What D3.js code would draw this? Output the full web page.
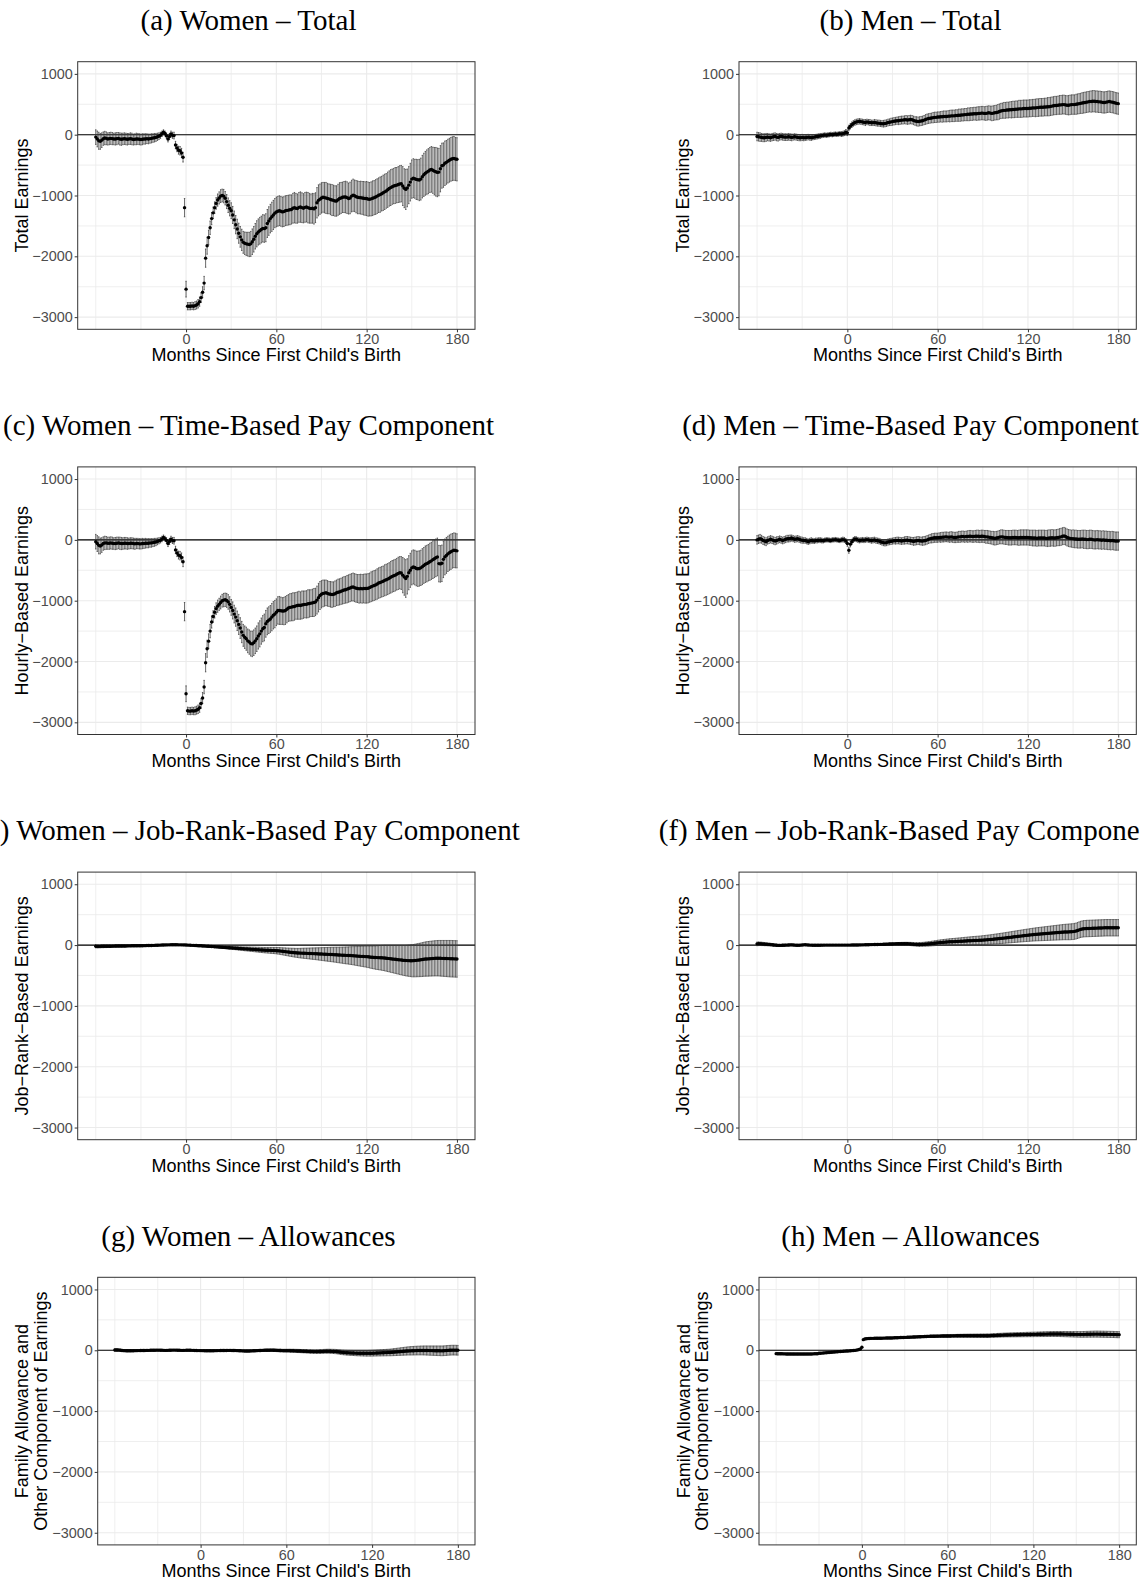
<!DOCTYPE html>
<html>
<head>
<meta charset="utf-8">
<script src="https://d3js.org/d3.v7.min.js"></script>
<style>
  body { margin: 0; background: #fff; }
  svg { display: block; }
</style>
</head>
<body>
<script>
// months -60..180, one estimate + CI half-width per month
const months = d3.range(-60, 181);

// (a) women, total earnings
const womenTotal = [
  -40, -70, -100, -110, -90, -65, -55, -60, -70, -65,
  -60, -65, -70, -70, -65, -60, -70, -75, -70, -65,
  -70, -75, -70, -65, -70, -80, -75, -70, -70, -75,
  -80, -75, -70, -70, -65, -70, -65, -60, -55, -50,
  -45, -35, -25, -10, 15, 40, 20, -20, -70, -30,
  10, -10, -15, -170, -220, -255, -265, -300, -370, -1200,
  -2540, -2820, -2820, -2820, -2815, -2820, -2810, -2800, -2780, -2745,
  -2680, -2590, -2440, -2030, -1825, -1690, -1530, -1380, -1285, -1200,
  -1130, -1075, -1040, -1010, -1000, -1010, -1045, -1100, -1160, -1210,
  -1250, -1320, -1400, -1480, -1550, -1620, -1680, -1730, -1770, -1785,
  -1795, -1800, -1805, -1795, -1760, -1720, -1670, -1630, -1600, -1580,
  -1560, -1540, -1545, -1530, -1460, -1420, -1380, -1350, -1320, -1290,
  -1270, -1260, -1250, -1260, -1270, -1265, -1250, -1245, -1240, -1235,
  -1230, -1210, -1200, -1210, -1215, -1195, -1190, -1200, -1210, -1195,
  -1190, -1200, -1210, -1215, -1210, -1220, -1200, -1120, -1080, -1060,
  -1040, -1030, -1035, -1040, -1050, -1055, -1065, -1075, -1080, -1090,
  -1090, -1070, -1050, -1040, -1030, -1025, -1025, -1035, -1050, -1040,
  -1010, -995, -1005, -1020, -1030, -1035, -1035, -1040, -1045, -1050,
  -1050, -1060, -1062, -1055, -1045, -1035, -1025, -1010, -995, -985,
  -970, -955, -940, -925, -905, -885, -870, -855, -845, -835,
  -830, -820, -810, -805, -845, -880, -900, -875, -830, -780,
  -730, -715, -725, -735, -740, -745, -730, -690, -660, -635,
  -615, -600, -580, -570, -585, -600, -610, -620, -615, -560,
  -510, -500, -470, -455, -435, -420, -405, -395, -390, -400,
  -405
];
const womenTotalCI = [
  120, 130, 140, 130, 120, 110, 110, 105, 100, 100,
  100, 100, 95, 100, 100, 95, 100, 100, 95, 95,
  95, 95, 90, 95, 95, 90, 90, 95, 90, 90,
  90, 90, 85, 85, 80, 80, 75, 75, 70, 70,
  65, 60, 55, 50, 45, 40, 40, 45, 50, 50,
  50, 50, 55, 60, 60, 65, 70, 75, 80, 150,
  130, 60, 60, 60, 60, 60, 65, 65, 70, 75,
  80, 90, 110, 150, 140, 120, 110, 100, 95, 95,
  95, 100, 100, 105, 105, 110, 110, 115, 120, 125,
  130, 140, 145, 150, 160, 165, 170, 175, 180, 185,
  190, 195, 200, 205, 210, 210, 210, 215, 215, 220,
  220, 225, 225, 230, 230, 235, 235, 240, 240, 240,
  245, 245, 245, 245, 245, 245, 245, 245, 245, 245,
  240, 245, 250, 245, 240, 245, 250, 245, 240, 245,
  245, 250, 245, 240, 245, 250, 245, 250, 255, 250,
  250, 245, 250, 255, 250, 245, 250, 255, 250, 250,
  250, 255, 260, 255, 250, 255, 260, 260, 255, 260,
  260, 265, 260, 265, 270, 265, 270, 270, 275, 275,
  280, 280, 275, 280, 285, 280, 285, 285, 285, 290,
  285, 290, 290, 285, 290, 290, 295, 290, 290, 295,
  290, 295, 300, 300, 320, 320, 330, 310, 305, 310,
  315, 320, 320, 330, 330, 340, 345, 350, 355, 360,
  365, 370, 370, 375, 380, 390, 400, 400, 390, 380,
  370, 365, 365, 360, 360, 360, 360, 360, 360, 355,
  355
];

// (b) men, total earnings
const menTotal = [
  -30, -35, -40, -45, -50, -50, -45, -40, -45, -50,
  -40, -35, -30, -40, -45, -35, -30, -35, -40, -40,
  -40, -35, -40, -45, -40, -35, -40, -45, -50, -50,
  -45, -50, -50, -45, -40, -45, -50, -45, -40, -35,
  -30, -25, -20, -15, -10, -5, -10, -5, 0, 5,
  0, 5, 10, 5, 10, 15, 10, 15, 25, 40,
  30, 110, 140, 165, 185, 200, 210, 215, 220, 215,
  210, 205, 200, 210, 205, 200, 195, 195, 200, 195,
  190, 190, 185, 180, 180, 185, 190, 200, 205, 210,
  215, 220, 225, 230, 230, 235, 240, 240, 245, 245,
  240, 245, 250, 245, 235, 225, 220, 215, 220, 225,
  230, 240, 250, 260, 265, 270, 275, 280, 285, 285,
  290, 290, 295, 295, 300, 300, 300, 305, 305, 310,
  310, 310, 315, 315, 320, 320, 325, 325, 330, 330,
  335, 335, 340, 340, 345, 345, 345, 350, 350, 355,
  355, 350, 350, 355, 360, 355, 350, 355, 360, 365,
  370, 380, 390, 395, 400, 400, 405, 405, 410, 410,
  415, 415, 420, 420, 425, 425, 425, 430, 430, 430,
  430, 435, 435, 440, 440, 440, 445, 445, 450, 450,
  450, 455, 455, 460, 460, 465, 470, 475, 480, 480,
  485, 490, 490, 495, 495, 490, 485, 485, 490, 495,
  495, 495, 500, 505, 510, 515, 520, 525, 530, 535,
  540, 545, 545, 550, 550, 545, 545, 540, 540, 535,
  530, 530, 535, 540, 545, 540, 535, 530, 520, 515,
  510
];
const menTotalCI = [
  70, 70, 70, 65, 65, 65, 65, 60, 60, 60,
  60, 60, 60, 60, 60, 55, 55, 55, 55, 55,
  55, 55, 55, 55, 50, 50, 50, 50, 50, 50,
  50, 50, 45, 45, 45, 45, 45, 40, 40, 40,
  40, 40, 40, 35, 35, 35, 35, 35, 35, 35,
  35, 35, 35, 35, 35, 35, 40, 40, 40, 45,
  45, 45, 45, 45, 45, 45, 45, 45, 45, 45,
  45, 45, 50, 45, 45, 50, 45, 45, 50, 50,
  50, 50, 50, 50, 55, 55, 55, 55, 55, 60,
  60, 60, 60, 60, 65, 65, 65, 65, 65, 70,
  70, 70, 70, 70, 70, 70, 75, 75, 75, 75,
  75, 75, 80, 80, 80, 80, 80, 85, 85, 85,
  85, 85, 85, 90, 90, 90, 90, 90, 95, 95,
  95, 95, 95, 95, 100, 100, 100, 100, 100, 100,
  105, 105, 105, 105, 105, 105, 110, 110, 110, 110,
  110, 110, 115, 115, 115, 115, 120, 120, 120, 120,
  125, 125, 125, 125, 130, 130, 130, 130, 130, 135,
  135, 135, 135, 135, 140, 140, 140, 140, 140, 140,
  140, 140, 140, 140, 140, 145, 145, 145, 145, 145,
  145, 145, 145, 150, 150, 150, 150, 150, 150, 150,
  150, 155, 155, 155, 155, 155, 155, 160, 160, 160,
  160, 160, 165, 165, 165, 165, 170, 170, 170, 170,
  170, 170, 175, 175, 175, 175, 175, 175, 175, 175,
  175, 175, 175, 175, 175, 175, 175, 175, 175, 175,
  175
];

// (c) women, time-based (hourly) pay
const womenTime = [
  -30, -60, -90, -100, -85, -60, -50, -50, -55, -55,
  -50, -55, -60, -60, -55, -50, -55, -60, -60, -55,
  -55, -60, -60, -55, -55, -60, -65, -60, -60, -65,
  -65, -60, -60, -55, -55, -55, -50, -50, -45, -40,
  -35, -25, -15, -5, 15, 40, 20, -10, -60, -25,
  10, -10, -15, -165, -215, -250, -260, -290, -360, -1180,
  -2530, -2810, -2815, -2815, -2810, -2815, -2810, -2800, -2785, -2760,
  -2690, -2600, -2420, -2020, -1790, -1665, -1500, -1350, -1260, -1190,
  -1130, -1090, -1060, -1030, -1000, -990, -985, -995, -1020, -1060,
  -1110, -1160, -1220, -1270, -1330, -1390, -1450, -1515, -1570, -1600,
  -1625, -1660, -1680, -1705, -1710, -1690, -1660, -1625, -1580, -1545,
  -1500, -1460, -1440, -1380, -1340, -1320, -1300, -1270, -1240, -1220,
  -1190, -1160, -1160, -1165, -1170, -1170, -1160, -1140, -1120, -1110,
  -1105, -1100, -1095, -1085, -1080, -1075, -1080, -1070, -1065, -1060,
  -1060, -1050, -1045, -1040, -1035, -1030, -1020, -990, -950, -915,
  -895, -880, -875, -870, -880, -890, -895, -900, -895, -885,
  -870, -860, -855, -845, -835, -825, -820, -810, -800, -790,
  -780, -775, -785, -795, -800, -805, -800, -805, -800, -800,
  -800, -795, -785, -770, -760, -750, -740, -725, -710, -700,
  -690, -680, -665, -655, -645, -630, -615, -600, -590, -580,
  -565, -550, -540, -545, -580, -610, -635, -600, -540, -500,
  -460, -445, -455, -470, -475, -470, -460, -440, -420, -400,
  -390, -375, -360, -345, -325, -310, -295, -280, -390, -395,
  -385, -320, -280, -255, -230, -210, -195, -180, -170, -175,
  -180
];
const womenTimeCI = [
  120, 130, 140, 130, 120, 110, 110, 105, 100, 100,
  100, 100, 95, 100, 100, 95, 100, 100, 95, 95,
  95, 95, 90, 90, 90, 90, 90, 85, 85, 85,
  85, 85, 80, 80, 75, 75, 70, 70, 65, 65,
  60, 55, 50, 45, 45, 40, 40, 45, 50, 50,
  50, 50, 55, 60, 60, 65, 70, 75, 80, 150,
  130, 60, 60, 60, 60, 60, 65, 65, 70, 75,
  80, 90, 110, 150, 140, 120, 110, 100, 95, 95,
  95, 100, 100, 105, 105, 110, 110, 115, 120, 125,
  130, 140, 145, 150, 160, 165, 170, 175, 180, 185,
  190, 195, 200, 205, 210, 210, 210, 210, 215, 215,
  215, 215, 220, 220, 220, 220, 220, 225, 225, 225,
  220, 225, 230, 225, 220, 225, 230, 225, 220, 225,
  225, 230, 225, 220, 225, 230, 225, 230, 225, 220,
  225, 230, 225, 220, 225, 230, 225, 230, 235, 230,
  225, 220, 215, 210, 210, 205, 210, 210, 205, 210,
  210, 215, 215, 215, 220, 220, 220, 225, 225, 225,
  225, 230, 230, 230, 230, 235, 235, 235, 235, 240,
  240, 240, 240, 245, 245, 245, 245, 250, 250, 250,
  250, 250, 255, 255, 255, 255, 260, 260, 260, 260,
  260, 265, 265, 270, 290, 300, 310, 290, 280, 280,
  280, 280, 285, 285, 290, 290, 290, 295, 295, 300,
  300, 300, 305, 305, 310, 310, 310, 310, 300, 300,
  300, 300, 295, 295, 290, 290, 290, 285, 285, 285,
  280
];

// (d) men, time-based (hourly) pay
const menTime = [
  0, 10, 20, 10, -10, -20, -30, -10, 0, 10,
  0, -10, -20, -10, 0, 10, 0, -10, 0, 10,
  20, 20, 25, 30, 20, 10, 15, 20, 10, 0,
  -5, -10, -10, -20, -30, -20, -10, -15, -20, -10,
  -10, -5, -5, -10, -15, -5, 0, 0, -5, -10,
  0, 0, 5, 0, -5, -10, 0, 5, 0, -20,
  -60, -170, -70, -30, 0, 15, 10, 0, -10, -5,
  0, -5, 0, 5, 0, -5, -10, -5, 0, -10,
  -15, -20, -30, -40, -45, -50, -45, -35, -30, -25,
  -20, -15, -15, -10, -10, -15, -20, -15, -10, -5,
  -5, -10, -15, -20, -25, -20, -15, -10, -15, -20,
  -20, -15, -10, 0, 10, 20, 25, 30, 35, 35,
  35, 40, 40, 45, 45, 50, 50, 45, 45, 50,
  45, 40, 40, 45, 50, 50, 55, 55, 50, 55,
  55, 60, 60, 55, 55, 60, 60, 60, 55, 60,
  60, 55, 50, 50, 45, 40, 35, 30, 25, 30,
  35, 45, 50, 50, 45, 40, 40, 35, 35, 35,
  40, 40, 40, 35, 35, 40, 40, 40, 40, 40,
  40, 35, 35, 30, 30, 30, 25, 30, 30, 30,
  30, 30, 25, 25, 30, 30, 35, 30, 30, 35,
  40, 45, 50, 60, 65, 55, 40, 30, 25, 20,
  20, 15, 15, 10, 10, 10, 15, 10, 10, 5,
  5, 10, 10, 5, 0, 0, 5, 0, 0, -5,
  0, -5, -5, -10, -10, -15, -10, -15, -20, -20,
  -20
];
const menTimeCI = [
  70, 70, 70, 65, 65, 65, 65, 60, 60, 60,
  60, 60, 60, 60, 55, 55, 55, 55, 55, 55,
  55, 55, 55, 50, 50, 50, 50, 50, 50, 50,
  50, 45, 45, 45, 45, 45, 45, 40, 40, 40,
  40, 40, 40, 40, 35, 35, 35, 35, 35, 35,
  35, 35, 35, 35, 35, 35, 35, 40, 40, 40,
  45, 50, 45, 40, 40, 40, 40, 40, 40, 40,
  40, 40, 40, 40, 40, 40, 45, 45, 45, 45,
  45, 45, 45, 45, 50, 50, 50, 50, 50, 50,
  50, 50, 55, 55, 55, 55, 55, 55, 60, 60,
  60, 60, 60, 60, 65, 65, 65, 65, 65, 65,
  70, 70, 70, 70, 70, 70, 75, 75, 75, 75,
  75, 75, 80, 80, 80, 80, 80, 80, 85, 85,
  85, 85, 85, 85, 90, 90, 90, 90, 90, 90,
  95, 95, 95, 95, 95, 95, 100, 100, 100, 100,
  100, 100, 105, 105, 105, 105, 105, 110, 110, 110,
  110, 110, 115, 115, 115, 115, 115, 120, 120, 120,
  120, 120, 120, 120, 125, 125, 125, 125, 125, 125,
  125, 125, 125, 130, 130, 130, 130, 130, 130, 130,
  130, 130, 130, 135, 135, 135, 135, 135, 135, 135,
  135, 140, 140, 140, 140, 140, 140, 140, 140, 140,
  145, 145, 145, 145, 145, 145, 145, 150, 150, 150,
  150, 150, 150, 150, 150, 150, 150, 150, 150, 150,
  150, 150, 150, 150, 150, 150, 150, 150, 150, 150,
  150
];

// (e) women, job-rank-based pay
const womenRank = [
  -20, -22, -22, -21, -20, -20, -19, -19, -18, -18,
  -18, -17, -17, -16, -16, -15, -15, -15, -14, -14,
  -14, -13, -13, -13, -12, -12, -12, -11, -11, -11,
  -10, -10, -9, -9, -8, -8, -7, -6, -5, -4,
  -3, -2, -1, 0, 1, 2, 3, 3, 4, 4,
  5, 5, 5, 5, 5, 4, 4, 4, 3, 3,
  2, 0, -1, -3, -4, -5, -7, -8, -10, -11,
  -12, -14, -15, -17, -19, -20, -22, -23, -25, -27,
  -29, -30, -32, -34, -36, -38, -39, -41, -43, -45,
  -46, -48, -50, -51, -53, -55, -57, -58, -60, -62,
  -63, -65, -66, -68, -70, -71, -73, -75, -76, -78,
  -80, -81, -83, -84, -85, -86, -87, -88, -89, -90,
  -92, -94, -96, -99, -102, -105, -108, -111, -114, -117,
  -120, -122, -125, -127, -129, -131, -132, -133, -134, -135,
  -136, -137, -138, -139, -140, -141, -142, -143, -145, -146,
  -147, -148, -150, -151, -152, -153, -154, -155, -157, -158,
  -160, -162, -163, -165, -166, -168, -169, -170, -171, -172,
  -173, -175, -177, -179, -181, -183, -185, -186, -188, -189,
  -190, -193, -196, -199, -201, -203, -205, -206, -207, -208,
  -209, -211, -213, -216, -219, -222, -225, -228, -231, -234,
  -237, -240, -243, -246, -249, -252, -254, -255, -256, -257,
  -257, -256, -254, -251, -248, -245, -242, -238, -234, -230,
  -228, -226, -224, -222, -220, -218, -217, -216, -216, -217,
  -218, -219, -220, -221, -222, -223, -224, -225, -226, -227,
  -228
];
const womenRankCI = [
  25, 25, 24, 24, 23, 23, 22, 22, 21, 21,
  20, 20, 20, 19, 19, 18, 18, 18, 17, 17,
  16, 16, 16, 15, 15, 14, 14, 14, 13, 13,
  12, 12, 12, 11, 11, 10, 10, 10, 9, 9,
  8, 8, 8, 7, 7, 6, 6, 6, 5, 5,
  5, 4, 4, 4, 3, 3, 3, 2, 2, 2,
  3, 3, 4, 4, 5, 5, 6, 6, 7, 7,
  8, 8, 9, 10, 10, 11, 12, 12, 13, 14,
  14, 15, 16, 17, 17, 18, 19, 20, 21, 22,
  22, 23, 24, 25, 26, 27, 28, 29, 30, 31,
  32, 33, 34, 35, 36, 37, 38, 39, 40, 41,
  42, 43, 44, 45, 46, 47, 48, 49, 50, 51,
  52, 54, 55, 57, 58, 60, 62, 63, 65, 67,
  68, 70, 72, 73, 75, 77, 79, 81, 83, 85,
  86, 88, 90, 92, 94, 95, 97, 99, 101, 103,
  105, 107, 109, 111, 113, 115, 117, 119, 121, 123,
  125, 127, 129, 131, 133, 136, 138, 140, 142, 145,
  147, 150, 152, 155, 157, 160, 162, 165, 168, 171,
  174, 177, 180, 183, 186, 189, 192, 195, 198, 201,
  204, 207, 210, 213, 216, 219, 222, 225, 228, 231,
  234, 237, 240, 243, 246, 249, 252, 255, 258, 261,
  264, 266, 268, 270, 272, 274, 276, 278, 280, 282,
  284, 285, 286, 287, 288, 289, 290, 291, 292, 293,
  294, 295, 296, 297, 298, 299, 300, 300, 300, 300,
  300
];

// (f) men, job-rank-based pay
const menRank = [
  20, 22, 22, 20, 18, 16, 14, 12, 10, 8,
  5, 2, 0, -3, -5, -5, -4, -3, -2, 0,
  0, 2, 3, 4, 2, 0, -2, -3, -2, 0,
  2, 4, 5, 3, 1, 0, -1, -2, -3, -3,
  -3, -2, -2, -1, -1, 0, 0, 0, 0, 0,
  0, 0, 0, 0, 0, 0, 0, 0, 0, 0,
  0, 0, 0, 1, 1, 1, 2, 2, 3, 3,
  4, 4, 5, 6, 6, 7, 8, 8, 9, 10,
  10, 11, 12, 12, 13, 14, 15, 16, 17, 18,
  19, 20, 20, 21, 21, 22, 22, 23, 22, 22,
  21, 20, 18, 16, 14, 12, 11, 10, 10, 11,
  12, 14, 16, 18, 20, 22, 25, 28, 31, 34,
  37, 40, 42, 44, 46, 48, 50, 52, 54, 55,
  56, 57, 58, 60, 61, 62, 64, 65, 67, 68,
  70, 71, 72, 74, 75, 76, 77, 78, 79, 80,
  82, 84, 86, 88, 90, 92, 94, 97, 100, 102,
  104, 107, 110, 112, 115, 118, 121, 124, 127, 130,
  133, 136, 139, 142, 145, 148, 151, 154, 157, 160,
  162, 165, 168, 171, 173, 176, 178, 180, 182, 184,
  186, 188, 190, 192, 194, 196, 198, 200, 202, 204,
  206, 208, 210, 212, 214, 215, 216, 217, 218, 220,
  222, 226, 232, 240, 250, 258, 264, 268, 270, 272,
  273, 274, 275, 276, 277, 278, 279, 280, 281, 282,
  283, 284, 285, 285, 285, 285, 285, 285, 285, 285,
  285
];
const menRankCI = [
  30, 30, 28, 28, 26, 26, 24, 24, 22, 22,
  20, 20, 19, 19, 18, 18, 17, 17, 16, 16,
  15, 15, 14, 14, 13, 13, 12, 12, 11, 11,
  10, 10, 9, 9, 8, 8, 7, 7, 6, 6,
  6, 5, 5, 5, 4, 4, 4, 3, 3, 3,
  3, 3, 2, 2, 2, 2, 2, 2, 2, 2,
  2, 3, 3, 4, 4, 5, 5, 6, 6, 7,
  7, 8, 8, 9, 9, 10, 10, 11, 11, 12,
  12, 13, 13, 14, 14, 15, 15, 16, 17, 17,
  18, 18, 19, 20, 20, 21, 22, 22, 23, 24,
  24, 25, 26, 27, 27, 28, 29, 30, 31, 32,
  32, 33, 34, 35, 36, 37, 38, 39, 40, 41,
  42, 43, 44, 45, 46, 47, 48, 49, 50, 51,
  52, 53, 54, 55, 56, 57, 58, 59, 60, 61,
  62, 63, 64, 65, 66, 67, 68, 69, 70, 71,
  72, 73, 74, 75, 76, 77, 78, 79, 80, 81,
  82, 83, 84, 85, 86, 87, 88, 89, 90, 91,
  92, 93, 94, 95, 96, 97, 98, 99, 100, 101,
  102, 103, 104, 105, 106, 107, 108, 109, 110, 111,
  112, 113, 114, 115, 116, 117, 118, 119, 120, 121,
  122, 123, 124, 125, 126, 127, 128, 129, 130, 130,
  130, 131, 131, 132, 132, 133, 133, 134, 134, 135,
  135, 135, 135, 135, 135, 135, 135, 135, 135, 135,
  135, 135, 135, 135, 135, 135, 135, 135, 135, 135,
  135
];

// (g) women, family allowance and other components
const womenAllow = [
  5, 5, 4, 3, 0, -3, -5, -6, -7, -8,
  -8, -8, -7, -7, -6, -6, -5, -5, -4, -4,
  -3, -3, -2, -2, -1, 0, 0, 1, 1, 2,
  2, 2, 1, 0, -1, -2, -2, -1, 0, 1,
  2, 3, 3, 2, 1, 0, -1, -2, -2, -1,
  0, 1, 1, 0, -1, -2, -3, -4, -5, -5,
  -5, -6, -6, -7, -7, -8, -8, -8, -7, -7,
  -6, -6, -5, -5, -4, -4, -3, -3, -3, -2,
  -2, -2, -3, -3, -4, -5, -6, -7, -8, -9,
  -10, -11, -12, -12, -11, -10, -9, -8, -7, -6,
  -5, -4, -3, -2, -1, 0, 0, 1, 1, 2,
  2, 1, 0, -1, -2, -3, -4, -5, -6, -6,
  -6, -6, -6, -7, -7, -8, -9, -10, -11, -12,
  -13, -14, -15, -16, -17, -18, -19, -20, -21, -22,
  -22, -22, -22, -21, -20, -19, -18, -17, -16, -16,
  -16, -17, -18, -19, -20, -22, -25, -28, -31, -34,
  -36, -38, -40, -41, -42, -43, -44, -45, -46, -47,
  -48, -48, -49, -49, -50, -50, -50, -50, -49, -49,
  -48, -47, -46, -45, -44, -43, -42, -41, -40, -39,
  -38, -37, -36, -35, -33, -31, -29, -27, -25, -23,
  -21, -19, -17, -15, -13, -11, -10, -9, -8, -7,
  -6, -5, -4, -4, -3, -3, -3, -3, -4, -4,
  -5, -5, -6, -6, -7, -7, -8, -8, -9, -9,
  -8, -6, -4, -2, 0, 1, 2, 2, 2, 1,
  0
];
const womenAllowCI = [
  20, 20, 19, 19, 18, 18, 17, 17, 16, 16,
  15, 15, 14, 14, 13, 13, 12, 12, 11, 11,
  10, 10, 10, 9, 9, 9, 8, 8, 8, 7,
  7, 7, 6, 6, 6, 5, 5, 5, 4, 4,
  4, 4, 3, 3, 3, 3, 3, 3, 3, 3,
  3, 3, 3, 3, 3, 3, 3, 3, 3, 3,
  3, 3, 4, 4, 4, 5, 5, 5, 6, 6,
  6, 7, 7, 7, 8, 8, 8, 9, 9, 9,
  10, 10, 10, 11, 11, 11, 12, 12, 12, 13,
  13, 13, 14, 14, 14, 15, 15, 15, 16, 16,
  16, 17, 17, 17, 18, 18, 18, 19, 19, 19,
  20, 20, 20, 21, 21, 21, 22, 22, 22, 23,
  23, 23, 24, 24, 24, 25, 25, 25, 26, 26,
  26, 27, 27, 27, 28, 28, 28, 29, 29, 29,
  30, 30, 30, 31, 31, 31, 32, 32, 32, 33,
  33, 33, 34, 34, 35, 35, 36, 36, 37, 37,
  38, 38, 39, 39, 40, 40, 41, 41, 42, 42,
  43, 43, 44, 44, 45, 45, 46, 46, 47, 47,
  48, 48, 49, 49, 50, 50, 51, 51, 52, 52,
  53, 53, 54, 55, 56, 57, 58, 59, 60, 61,
  62, 63, 64, 65, 66, 67, 68, 69, 70, 70,
  71, 71, 72, 72, 73, 73, 74, 74, 75, 75,
  76, 76, 77, 77, 78, 78, 79, 79, 80, 80,
  80, 80, 80, 80, 80, 80, 80, 80, 80, 80,
  80
];

// (h) men, family allowance and other components
const menAllow = [
  -55, -56, -57, -58, -58, -59, -59, -60, -60, -60,
  -60, -61, -61, -61, -62, -62, -62, -62, -62, -62,
  -62, -62, -61, -61, -60, -60, -59, -58, -57, -56,
  -50, -48, -46, -44, -42, -40, -38, -36, -34, -32,
  -30, -28, -26, -24, -22, -20, -18, -16, -14, -12,
  -11, -10, -8, -6, -4, -2, 2, 6, 12, 22,
  50, 175, 185, 190, 192, 194, 195, 196, 196, 197,
  197, 198, 198, 199, 199, 200, 200, 201, 201, 202,
  202, 203, 204, 205, 206, 207, 208, 209, 210, 211,
  212, 213, 214, 215, 216, 217, 218, 219, 220, 221,
  222, 223, 224, 225, 226, 227, 228, 229, 230, 230,
  231, 231, 232, 232, 233, 233, 234, 234, 235, 235,
  236, 236, 236, 237, 237, 237, 238, 238, 238, 239,
  239, 239, 240, 240, 240, 240, 240, 240, 240, 240,
  240, 240, 240, 240, 240, 240, 240, 240, 240, 240,
  241, 242, 243, 244, 245, 246, 247, 248, 249, 250,
  251, 252, 252, 253, 253, 254, 254, 255, 255, 256,
  256, 257, 257, 258, 258, 259, 259, 260, 260, 261,
  261, 262, 262, 263, 263, 264, 264, 265, 265, 266,
  266, 267, 267, 268, 268, 268, 268, 268, 268, 267,
  267, 266, 266, 265, 265, 264, 264, 263, 263, 262,
  262, 262, 261, 261, 261, 262, 262, 263, 263, 264,
  264, 265, 265, 266, 266, 266, 265, 265, 264, 264,
  263, 263, 262, 262, 261, 261, 260, 259, 258, 257,
  257
];
const menAllowCI = [
  15, 15, 15, 14, 14, 14, 13, 13, 13, 12,
  12, 12, 12, 11, 11, 11, 11, 10, 10, 10,
  10, 10, 9, 9, 9, 9, 8, 8, 8, 8,
  8, 7, 7, 7, 7, 6, 6, 6, 6, 6,
  5, 5, 5, 5, 5, 5, 5, 5, 5, 5,
  5, 5, 5, 5, 5, 5, 6, 6, 7, 8,
  10, 10, 8, 8, 8, 8, 8, 9, 9, 9,
  9, 10, 10, 10, 10, 11, 11, 11, 11, 12,
  12, 12, 12, 13, 13, 13, 13, 14, 14, 14,
  14, 15, 15, 15, 15, 16, 16, 16, 16, 17,
  17, 17, 17, 18, 18, 18, 18, 19, 19, 19,
  19, 20, 20, 20, 20, 21, 21, 21, 21, 22,
  22, 22, 22, 23, 23, 23, 23, 24, 24, 24,
  24, 25, 25, 25, 25, 26, 26, 26, 26, 27,
  27, 27, 27, 28, 28, 28, 28, 29, 29, 29,
  29, 30, 30, 30, 30, 31, 31, 31, 31, 32,
  32, 32, 32, 33, 33, 33, 33, 34, 34, 34,
  34, 35, 35, 35, 35, 36, 36, 36, 36, 37,
  37, 37, 37, 38, 38, 38, 38, 39, 39, 39,
  39, 40, 40, 40, 40, 41, 41, 41, 41, 42,
  42, 42, 43, 43, 43, 44, 44, 44, 45, 45,
  45, 46, 46, 46, 47, 47, 47, 48, 48, 48,
  49, 49, 49, 50, 50, 50, 50, 50, 50, 50,
  50, 50, 50, 50, 50, 50, 50, 50, 50, 50,
  50
];

const titles = [
  '(a) Women – Total', '(b) Men – Total',
  '(c) Women – Time-Based Pay Component', '(d) Men – Time-Based Pay Component',
  '(e) Women – Job-Rank-Based Pay Component', '(f) Men – Job-Rank-Based Pay Component',
  '(g) Women – Allowances', '(h) Men – Allowances'
];
const yTitles = [
  ['Total Earnings'], ['Hourly−Based Earnings'], ['Job−Rank−Based Earnings'],
  ['Family Allowance and', 'Other Component of Earnings']
];
const series = [
  [womenTotal, womenTotalCI], [menTotal, menTotalCI],
  [womenTime, womenTimeCI], [menTime, menTimeCI],
  [womenRank, womenRankCI], [menRank, menRankCI],
  [womenAllow, womenAllowCI], [menAllow, menAllowCI]
];
const xTicks = [0, 60, 120, 180];
const xGrid = [-60, -30, 0, 30, 60, 90, 120, 150, 180];
const yTicks = [-3000, -2000, -1000, 0, 1000];
const yMinor = [-2500, -1500, -500, 500];
const xTitle = "Months Since First Child's Birth";

const W = 1140, H = 1583;
const svg = d3.select('body').append('svg').attr('width', W).attr('height', H);
svg.append('rect').attr('width', W).attr('height', H).attr('fill', '#fff');

const rowStep = 405.2;
const minus = d => d < 0 ? '\u2212' + Math.abs(d) : String(d);
const sans = '"Liberation Sans", Arial, sans-serif';

series.forEach(([est, ci], i) => {
  const col = i % 2, row = Math.floor(i / 2);
  const dy = row * rowStep, dx = col * 661.3;
  const twoLine = row === 3;
  const x0 = (twoLine ? 97.7 : 77.7) + dx, x1 = 475 + dx;
  const y0 = 61.7 + dy, y1 = 329.3 + dy;

  const x = d3.scaleLinear().domain([-72, 192]).range([x0, x1]);
  const y = d3.scaleLinear().domain([-3200, 1200]).range([y1, y0]);
  const g = svg.append('g');

  // title (the long ones run past the page edge, as in the source figure)
  svg.append('text')
    .attr('x', 248.5 + col * 662).attr('y', 30 + dy)
    .attr('text-anchor', 'middle')
    .style('font-family', '"Liberation Serif", "Times New Roman", serif')
    .style('font-size', '29px')
    .text(titles[i]);

  // grid
  g.selectAll('.gy').data(yMinor.concat(yTicks)).enter().append('line')
    .attr('x1', x0).attr('x2', x1)
    .attr('y1', d => y(d)).attr('y2', d => y(d))
    .attr('stroke', '#ebebeb').attr('stroke-width', d => yTicks.includes(d) ? 1.1 : 0.8);
  g.selectAll('.gx').data(xGrid).enter().append('line')
    .attr('y1', y0).attr('y2', y1)
    .attr('x1', d => x(d)).attr('x2', d => x(d))
    .attr('stroke', '#ebebeb').attr('stroke-width', d => xTicks.includes(d) ? 1.1 : 0.8);

  // zero line
  g.append('line').attr('x1', x0).attr('x2', x1).attr('y1', y(0)).attr('y2', y(0))
    .attr('stroke', '#000').attr('stroke-width', 1.1);

  // error bars
  const cw = 0.45 * (x(1) - x(0));
  g.append('g').selectAll('path').data(months).enter().append('path')
    .attr('d', (m, k) => {
      const xm = x(m), hi = y(est[k] + ci[k]), lo = y(est[k] - ci[k]);
      return `M${xm - cw},${hi}H${xm + cw}M${xm},${hi}V${lo}M${xm - cw},${lo}H${xm + cw}`;
    })
    .attr('fill', 'none').attr('stroke', '#3a3a3a').attr('stroke-width', 0.75);

  // points
  g.append('g').selectAll('circle').data(months).enter().append('circle')
    .attr('cx', m => x(m)).attr('cy', (m, k) => y(est[k]))
    .attr('r', 1.7).attr('fill', '#000');

  // panel border
  g.append('rect').attr('x', x0).attr('y', y0).attr('width', x1 - x0).attr('height', y1 - y0)
    .attr('fill', 'none').attr('stroke', '#333').attr('stroke-width', 1);

  // axes
  const ax = g.append('g').attr('transform', `translate(0,${y1})`)
    .call(d3.axisBottom(x).tickValues(xTicks).tickSize(3).tickPadding(1.5));
  const ay = g.append('g').attr('transform', `translate(${x0},0)`)
    .call(d3.axisLeft(y).tickValues(yTicks).tickFormat(minus).tickSize(3).tickPadding(2));
  [ax, ay].forEach(a => {
    a.select('.domain').remove();
    a.selectAll('line').attr('stroke', '#333');
    a.selectAll('text').attr('fill', '#4d4d4d')
      .style('font-family', sans).style('font-size', '14.4px');
  });

  // axis titles
  svg.append('text')
    .attr('x', (x0 + x1) / 2).attr('y', y1 + 32)
    .attr('text-anchor', 'middle')
    .style('font-family', sans).style('font-size', '18px')
    .text(xTitle);
  const lines = yTitles[row];
  lines.forEach((t, j) => {
    const bx = dx + (lines.length === 2 ? [28.3, 46.7][j] : 28);
    svg.append('text')
      .attr('transform', `translate(${bx},${(y0 + y1) / 2}) rotate(-90)`)
      .attr('text-anchor', 'middle')
      .style('font-family', sans).style('font-size', '18px')
      .text(t);
  });
});
</script>
</body>
</html>
